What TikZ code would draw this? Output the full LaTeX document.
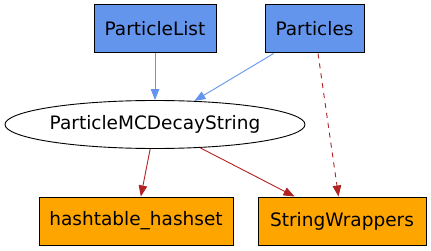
\documentclass[tikz,border=0pt]{standalone}
\usepackage{fontspec}
\setmainfont{DejaVu Sans}
\usetikzlibrary{arrows.meta,shapes.geometric}
\definecolor{boxblue}{HTML}{6495ED}
\definecolor{boxorange}{HTML}{FFA500}
\definecolor{edgered}{HTML}{B22222}
\begin{document}
\begin{tikzpicture}[x=1pt,y=-1pt,every node/.style={font=\fontsize{18.5}{21}\selectfont,inner sep=0pt},
  classbox/.style={draw,line width=1pt,minimum height=48pt},
  uses/.style={line width=0.9pt,-{Triangle[length=11pt,width=8.5pt]}}]
\useasboundingbox (0,0) rectangle (431,251);
% top row
\node[classbox,fill=boxblue,minimum width=122pt] (plist) at (155,29) {ParticleList};
\node[classbox,fill=boxblue,minimum width=99pt] (parts) at (314.5,29) {Particles};
% middle
\node[draw,ellipse,line width=0.9pt,minimum width=300pt,minimum height=48pt] (mcdecay) at (155,124.5) {ParticleMCDecayString};
% bottom row
\node[classbox,fill=boxorange,minimum width=194pt] (hashset) at (136,221) {hashtable\_hashset};
\node[classbox,fill=boxorange,minimum width=168pt] (strwrap) at (342,221) {StringWrappers};
\draw[uses,boxblue] (plist) -- (mcdecay);
\draw[uses,boxblue] (parts) -- (mcdecay);
\draw[uses,edgered,dash pattern=on 5pt off 5pt] (parts) -- (strwrap);
\draw[uses,edgered] (mcdecay) -- (hashset);
\draw[uses,edgered] (mcdecay) -- (strwrap);
\end{tikzpicture}
\end{document}
